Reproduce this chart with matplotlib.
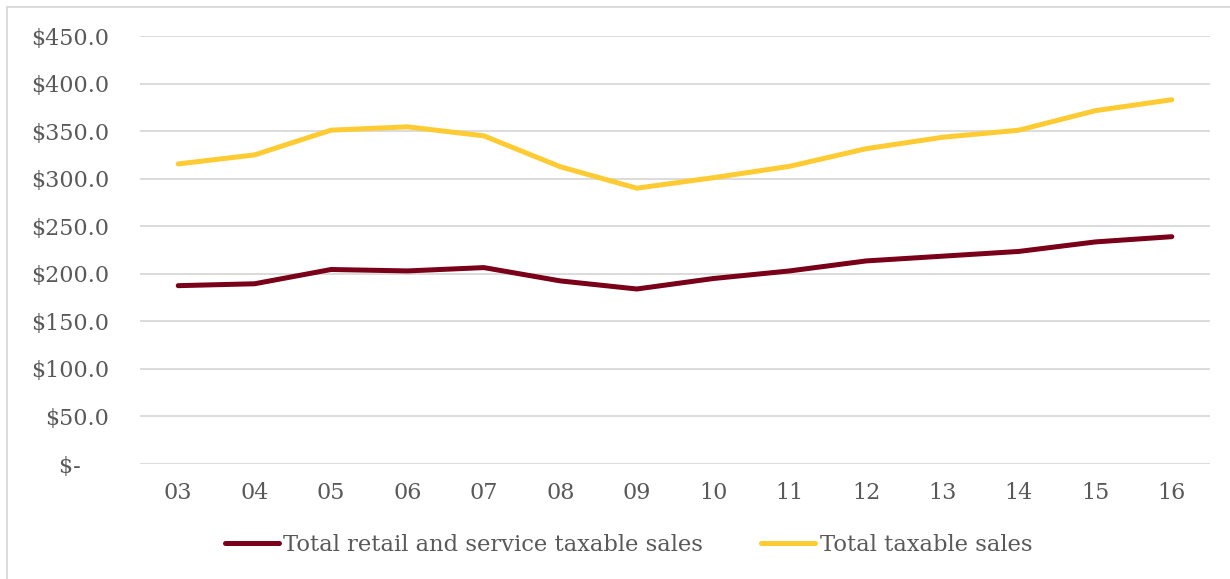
import matplotlib.pyplot as plt
from matplotlib.lines import Line2D

years = ['03', '04', '05', '06', '07', '08', '09', '10', '11', '12', '13', '14', '15', '16']
retail = [187.5, 189.5, 204.5, 203.0, 206.5, 192.5, 184.0, 195.0, 203.0, 213.5, 218.5, 223.5, 233.5, 239.0]
total = [315.5, 325.0, 351.0, 354.5, 345.0, 312.5, 290.0, 301.0, 313.0, 331.5, 343.5, 351.0, 371.5, 383.0]
y_ticks = [0, 50, 100, 150, 200, 250, 300, 350, 400, 450]
y_labels = ['$-    ', '$50.0', '$100.0', '$150.0', '$200.0', '$250.0', '$300.0', '$350.0', '$400.0', '$450.0']

grey = '#595959'
plt.rcParams['font.family'] = ['DejaVu Serif']

fig = plt.figure(figsize=(12.3, 5.79), dpi=100)
ax = fig.add_axes([140 / 1230, 1 - 464 / 579, 1070 / 1230, 428 / 579])

x = range(len(years))
ax.plot(x, retail, color='#7a0019', linewidth=3.6, solid_capstyle='round', solid_joinstyle='round',
        label='Total retail and service taxable sales')
ax.plot(x, total, color='#ffcb33', linewidth=3.6, solid_capstyle='round', solid_joinstyle='round',
        label='Total taxable sales')

ax.set_xlim(-0.5, len(years) - 0.5)
ax.set_ylim(0, 450)
ax.set_xticks(list(x))
ax.set_xticklabels(years)
ax.set_yticks(y_ticks)
ax.set_yticklabels(y_labels)
ax.tick_params(length=0, labelsize=16, colors=grey)
ax.tick_params(axis='x', pad=13)
ax.tick_params(axis='y', pad=22)
ax.yaxis.grid(True, color='#d9d9d9', linewidth=1.3)
ax.set_axisbelow(True)
for s in ax.spines.values():
    s.set_visible(False)

fig.legend(loc='center', bbox_to_anchor=(0.511, 1 - 545 / 579), ncol=2, frameon=False,
           fontsize=16.3, labelcolor=grey, handlelength=2.4, handletextpad=0.2, columnspacing=2.55)

# outer chart border
fig.add_artist(Line2D([7 / 1230, 7 / 1230], [0, 1 - 7 / 579], color='#d9d9d9', linewidth=1.3))
fig.add_artist(Line2D([7 / 1230, 1], [1 - 7 / 579, 1 - 7 / 579], color='#d9d9d9', linewidth=1.3))

fig.savefig('out.png', dpi=100)
